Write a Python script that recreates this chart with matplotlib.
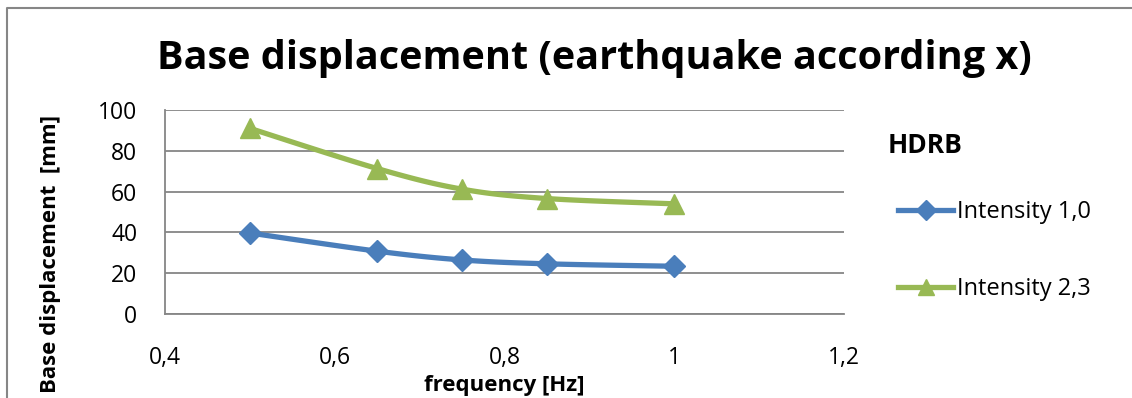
import numpy as np
import matplotlib
matplotlib.use("Agg")
import matplotlib.pyplot as plt
from matplotlib.lines import Line2D
from matplotlib.ticker import FuncFormatter

plt.rcParams['font.family'] = ['Open Sans', 'DejaVu Sans']

# --- data ---
freq = [0.5, 0.65, 0.75, 0.85, 1.0]
intensity_10 = [39.7, 30.8, 26.5, 24.6, 23.4]
intensity_23 = [91.0, 71.3, 61.2, 56.6, 54.0]
labels = ["Intensity 1,0", "Intensity 2,3"]
legend_title = "HDRB"
title = "Base displacement (earthquake according x)"

blue = "#4A7EBB"
green = "#98B954"
grid_col = "#868686"


def smooth(x, y, n=30):
    # Excel style smoothed line (Catmull-Rom, Bezier control at 1/6)
    x = np.asarray(x, float)
    y = np.asarray(y, float)
    px = np.concatenate([[x[0]], x, [x[-1]]])
    py = np.concatenate([[y[0]], y, [y[-1]]])
    xs, ys = [], []
    t = np.linspace(0, 1, n)
    for i in range(1, len(px) - 2):
        p0 = np.array([px[i], py[i]])
        p3 = np.array([px[i + 1], py[i + 1]])
        c1 = p0 + (np.array([px[i + 1], py[i + 1]]) - np.array([px[i - 1], py[i - 1]])) / 6
        c2 = p3 - (np.array([px[i + 2], py[i + 2]]) - np.array([px[i], py[i]])) / 6
        b = ((1 - t) ** 3)[:, None] * p0 + (3 * (1 - t) ** 2 * t)[:, None] * c1 \
            + (3 * (1 - t) * t ** 2)[:, None] * c2 + (t ** 3)[:, None] * p3
        xs.extend(b[:, 0])
        ys.extend(b[:, 1])
    return xs, ys


W, H = 1132, 398
fig = plt.figure(figsize=(W / 100, H / 100), dpi=100)
ax = fig.add_axes([165 / W, 1 - 314 / H, (844 - 165) / W, (314 - 110) / H])

for yv, col, mk, ms in [(intensity_10, blue, "D", 11), (intensity_23, green, "^", 15)]:
    sx, sy = smooth(freq, yv)
    ax.plot(sx, sy, color=col, lw=3.8, solid_capstyle="round", zorder=3)
    ax.plot(freq, yv, ls="none", marker=mk, ms=ms, color=col, zorder=4)

ax.set_xlim(0.4, 1.2)
ax.set_ylim(0, 100)
ax.set_xticks([0.4, 0.6, 0.8, 1.0, 1.2])
ax.set_yticks(range(0, 101, 20))
ax.xaxis.set_major_formatter(FuncFormatter(lambda v, p: ("%g" % round(v, 2)).replace(".", ",")))
ax.grid(axis="y", color=grid_col, lw=1.3)
ax.set_axisbelow(True)
for s in ["top", "right"]:
    ax.spines[s].set_visible(False)
ax.spines["left"].set_color(grid_col)
ax.spines["bottom"].set_color(grid_col)
ax.spines["left"].set_linewidth(1.3)
ax.spines["bottom"].set_linewidth(1.3)
ax.tick_params(axis="both", length=0, labelsize=16.5)
ax.tick_params(axis="x", pad=23)
ax.tick_params(axis="y", pad=20)

fig.text(594 / W, 1 - 58 / H, title, ha="center", va="center", fontsize=28.5, fontweight="bold")
fig.text(51 / W, 1 - 254 / H, "Base displacement  [mm]", rotation=90, ha="center", va="center",
         fontsize=16, fontweight="bold")
fig.text(504 / W, 1 - 386 / H, "frequency [Hz]", ha="center", va="center", fontsize=16, fontweight="bold")

fig.text(888 / W, 1 - 146 / H, legend_title, ha="left", va="center", fontsize=19, fontweight="bold")
handles = [Line2D([], [], color=blue, lw=3.8, marker="D", ms=10),
           Line2D([], [], color=green, lw=3.8, marker="^", ms=12)]
fig.legend(handles, labels, loc="upper left", bbox_to_anchor=(898 / W, 1 - 200 / H),
           frameon=False, fontsize=17, handlelength=2.33, handletextpad=0.17,
           labelspacing=2.25, borderpad=0, borderaxespad=0)

# chart area border (left and top edges visible)
fig.add_artist(Line2D([7 / W, 7 / W, 1.0], [0, 1 - 8 / H, 1 - 8 / H], color=grid_col, lw=1.5,
                      transform=fig.transFigure))

fig.savefig("out.png", dpi=100)
